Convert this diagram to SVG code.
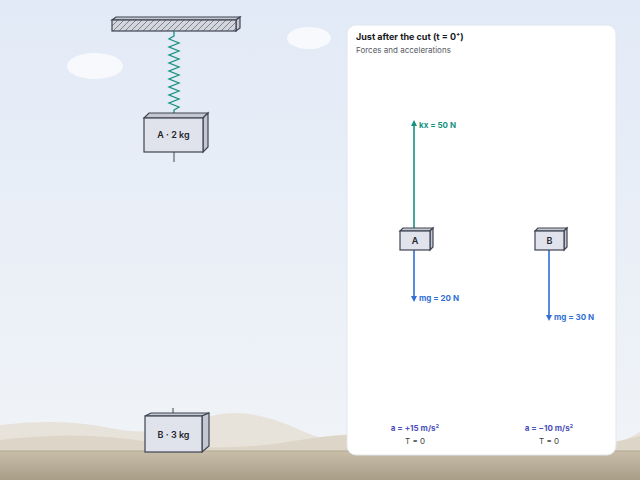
<svg xmlns="http://www.w3.org/2000/svg" width="640" height="480" viewBox="0 0 640 480">
<defs>
<linearGradient id="sky" x1="0" y1="0" x2="0" y2="1"><stop offset="0" stop-color="#e2eaf7"/><stop offset="1" stop-color="#f1f4f7"/></linearGradient>
<linearGradient id="gnd" x1="0" y1="0" x2="0" y2="1"><stop offset="0" stop-color="#c8bea9"/><stop offset="1" stop-color="#a89d87"/></linearGradient>
<pattern id="hatch" width="6" height="6" patternUnits="userSpaceOnUse"><rect width="6" height="6" fill="#d4d6dd"/><path d="M0 6L6 0" stroke="#5a5f6e" stroke-width="0.7"/></pattern>
<marker id="ag" markerUnits="userSpaceOnUse" markerWidth="6" markerHeight="6" refX="4" refY="3" orient="auto"><path d="M0 0L6 3L0 6z" fill="#17917f"/></marker>
<marker id="ab" markerUnits="userSpaceOnUse" markerWidth="6" markerHeight="6" refX="4" refY="3" orient="auto"><path d="M0 0L6 3L0 6z" fill="#2f6fd6"/></marker>
</defs>
<style>
text{font-family:Inter,"Liberation Sans",sans-serif}
.box{fill:#e1e3ec;stroke:#3f4452;stroke-width:1.2}
.side{fill:#c5c8d3;stroke:#3f4452;stroke-width:1.2}
.lbl{font-size:9px;font-weight:600;fill:#22252d;text-anchor:middle}
.g{stroke:#17917f;stroke-width:1.6;fill:none}
.b{stroke:#2f6fd6;stroke-width:1.6;fill:none}
.acc{font-size:8px;font-weight:700;fill:#4a4fb8;text-anchor:middle}
.t{font-size:8px;fill:#444;text-anchor:middle}
</style>
<rect width="640" height="480" fill="url(#sky)"/>
<g fill="#ffffff" opacity="0.7">
<ellipse cx="95" cy="66" rx="28" ry="13"/><ellipse cx="309" cy="38" rx="22" ry="11"/>
</g>
<path d="M0 425 Q60 418 110 428 T200 420 T300 430 T420 425 T520 435 T640 432 V452 H0Z" fill="#e7e3da"/>
<path d="M0 440 Q80 430 150 442 T300 440 T450 446 T640 436 V452 H0Z" fill="#ddd6c8"/>
<rect y="451" width="640" height="29" fill="url(#gnd)"/>
<line x1="0" y1="451" x2="640" y2="451" stroke="#b1a790" stroke-width="1"/>
<g id="ceiling">
<path d="M112 20 L116 17 L240 17 L236 20Z" class="side"/>
<path d="M236 20 L240 17 L240 28 L236 31Z" class="side"/>
<rect x="112" y="20" width="124" height="11" fill="url(#hatch)" stroke="#3f4452" stroke-width="1.2"/>
</g>
<g id="spring"><path d="M174 31 V36 L169 39 L179 43 L169 47 L179 51 L169 55 L179 59 L169 63 L179 67 L169 71 L179 75 L169 79 L179 83 L169 87 L179 91 L169 95 L179 99 L169 103 L179 107 L174 110 V113" stroke="#17917f" stroke-width="1.3" fill="none"/></g>
<g id="blockA">
<path d="M144 118 L149 113 L208 113 L203 118Z" class="side"/>
<path d="M203 118 L208 113 L208 147 L203 152Z" class="side"/>
<rect x="144" y="118" width="59" height="34" class="box"/>
<text x="173.5" y="138" class="lbl">A · 2 kg</text>
<line x1="174" y1="152" x2="174" y2="162" stroke="#3f4452"/>
</g>
<g id="blockB">
<line x1="173" y1="408" x2="173" y2="413" stroke="#3f4452"/>
<path d="M145 416 L151 413 L209 413 L202 416Z" class="side"/>
<path d="M202 416 L209 413 L209 446 L202 452Z" class="side"/>
<rect x="145" y="416" width="57" height="36" class="box"/>
<text x="173.5" y="438" class="lbl">B · 3 kg</text>
</g>
<g id="panel">
<rect x="347" y="25" width="269" height="430" rx="9" fill="#ffffff" stroke="#e3e6ec"/>
<text x="356" y="40" font-size="9" font-weight="700" fill="#16181d">Just after the cut (t = 0⁺)</text>
<text x="356" y="53" font-size="8" fill="#555a63">Forces and accelerations</text>
</g>
<g id="connectors">
<line x1="414" y1="231" x2="414" y2="122" class="g" marker-end="url(#ag)"/>
<line x1="414" y1="250" x2="414" y2="300" class="b" marker-end="url(#ab)"/>
<line x1="549" y1="250" x2="549" y2="319" class="b" marker-end="url(#ab)"/>
</g>
<g id="fbdA">
<path d="M400 231 L403 228 L433 228 L430 231Z" class="side"/>
<path d="M430 231 L433 228 L433 247 L430 250Z" class="side"/>
<rect x="400" y="231" width="30" height="19" class="box"/>
<text x="415" y="244" class="lbl">A</text>
<text x="419" y="128" font-size="8" font-weight="700" fill="#17917f">kx = 50 N</text>
<text x="419" y="301" font-size="8" font-weight="700" fill="#2f6fd6">mg = 20 N</text>
<text x="415" y="431" class="acc">a = +15 m/s²</text>
<text x="415" y="444" class="t">T = 0</text>
</g>
<g id="fbdB">
<path d="M535 231 L538 228 L567 228 L564 231Z" class="side"/>
<path d="M564 231 L567 228 L567 247 L564 250Z" class="side"/>
<rect x="535" y="231" width="29" height="19" class="box"/>
<text x="549.5" y="244" class="lbl">B</text>
<text x="554" y="320" font-size="8" font-weight="700" fill="#2f6fd6">mg = 30 N</text>
<text x="549" y="431" class="acc">a = −10 m/s²</text>
<text x="549" y="444" class="t">T = 0</text>
</g>
</svg>
